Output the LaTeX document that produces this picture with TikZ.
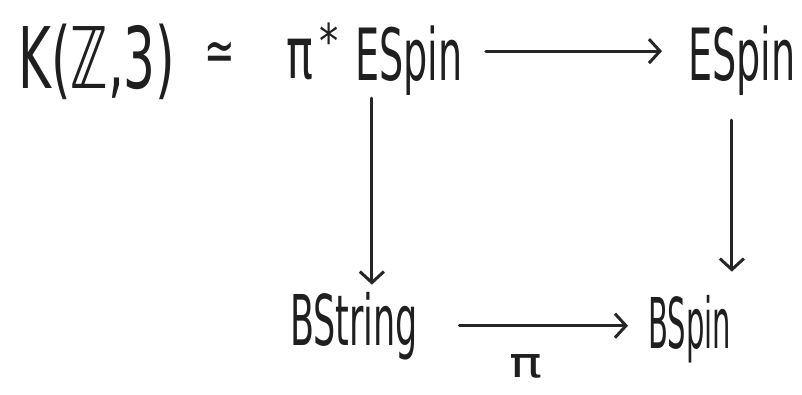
\documentclass[tikz,border=0pt]{standalone}
\usepackage{fontspec}
\usepackage{graphicx}
\setmainfont{DejaVu Sans}
\usetikzlibrary{arrows.meta,calc}
\newcommand\hw[2]{\scalebox{#1}[1]{#2}}
\tikzset{
  hand/.style={inner sep=0pt, text=black!88, font=\fontsize{72}{78}\selectfont},
  arr/.style={draw=black!85, line width=3pt, line cap=round,
    -{Straight Barb[length=11pt,width=24pt,line width=3pt]}},
}
\begin{document}
\begin{tikzpicture}[x=1pt,y=-1pt]
\useasboundingbox (0,0) rectangle (802,394);
\node[hand, anchor=base west, font=\fontsize{85}{90}\selectfont] (k) at (18,88) {\hw{0.59}{K(ℤ,3)}};
\node[hand, anchor=base west, font=\fontsize{60}{66}\selectfont] (sim) at (204,71) {\hw{0.61}{≃}};
\node[hand, anchor=base west] (pstar) at (286,78) {\hw{0.62}{π}\hspace{6pt}\raisebox{20pt}{\fontsize{48}{48}\selectfont\hw{0.8}{*}}};
\node[hand, anchor=base west] (tl) at (355,80) {\hw{0.53}{ESpin}};
\node[hand, anchor=base west] (tr) at (688,80) {\hw{0.53}{ESpin}};
\node[hand, anchor=base west, font=\fontsize{70}{76}\selectfont] (bl) at (290,345) {\hw{0.5}{BString}};
\node[hand, anchor=base west, font=\fontsize{70}{76}\selectfont] (br) at (648,348) {\hw{0.415}{BSpin}};
\node[hand, font=\fontsize{42}{46}\selectfont] (pi) at (526,366) {\hw{1.3}{π}};
\coordinate (lt) at ([xshift=-37pt]tl.south);
\coordinate (rt) at ([xshift=-10pt]tr.south);
\draw[arr, shorten <=23pt, shorten >=26pt] ([yshift=9pt]tl.east) -- ([yshift=9pt]tr.west);
\draw[arr, shorten <=3pt, shorten >=7pt] (lt) -- (lt |- bl.north);
\draw[arr, shorten <=25pt, shorten >=23pt] (rt) -- (rt |- br.north);
\draw[arr, shorten <=41pt, shorten >=20pt] (bl.east) -- (bl.east -| br.west);
\end{tikzpicture}
\end{document}
